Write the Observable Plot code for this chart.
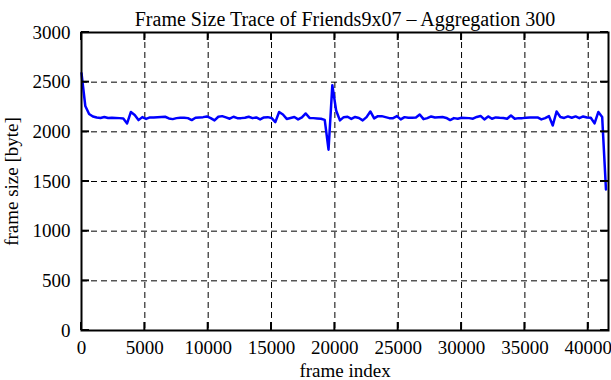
<!DOCTYPE html>
<html><head><meta charset="utf-8">
<script src="https://cdn.jsdelivr.net/npm/d3@7"></script>
<script src="https://cdn.jsdelivr.net/npm/@observablehq/plot@0.6"></script>
<style>body{margin:0;background:#fff}</style>
</head><body><div id="chart"></div>
<script>
const title = "Frame Size Trace of Friends9x07 \u2013 Aggregation 300";
const xLabel = "frame index";
const yLabel = "frame size [byte]";
const aggregation = 300;
const frameSizes = [
  2590,2260,2180,2155,2145,2140,2150,2140,2142,2140,
  2138,2135,2085,2200,2170,2118,2148,2130,2145,2145,
  2148,2150,2152,2135,2128,2138,2142,2142,2138,2118,
  2142,2145,2148,2155,2138,2115,2152,2158,2145,2132,
  2152,2138,2138,2142,2152,2138,2145,2125,2145,2148,
  2140,2098,2200,2175,2130,2140,2150,2125,2145,2185,
  2140,2138,2135,2132,2120,1820,2470,2215,2115,2148,
  2152,2130,2150,2140,2115,2148,2205,2135,2158,2158,
  2148,2138,2138,2158,2125,2148,2142,2142,2145,2175,
  2128,2138,2155,2145,2148,2150,2140,2118,2138,2132,
  2142,2140,2138,2132,2150,2160,2125,2155,2132,2145,
  2142,2140,2132,2165,2132,2138,2138,2142,2145,2145,
  2145,2125,2138,2158,2064,2205,2150,2140,2155,2142,
  2155,2138,2155,2145,2142,2085,2200,2150,1420
];
const xTicks = [0,5000,10000,15000,20000,25000,30000,35000,40000];
const yTicks = [0,500,1000,1500,2000,2500,3000];
const xDomain = [0, 41600];
const yDomain = [0, 3000];

const data = frameSizes.map((s, i) => ({frame: i * aggregation, size: s}));

const chart = Plot.plot({
  width: 611, height: 380,
  marginLeft: 81, marginRight: 3, marginTop: 32, marginBottom: 50,
  style: {fontFamily: "'Liberation Serif', 'Times New Roman', serif", fontSize: "19px", color: "#000", background: "#fff"},
  x: {domain: xDomain, ticks: xTicks},
  y: {domain: yDomain, ticks: yTicks},
  marks: [
    Plot.gridX(xTicks, {stroke: "#000", strokeOpacity: 1, strokeWidth: 1, strokeDasharray: "6,4"}),
    Plot.gridY(yTicks, {stroke: "#000", strokeOpacity: 1, strokeWidth: 1, strokeDasharray: "6,4"}),
    Plot.axisX(xTicks, {tickSize: 0, tickPadding: 10, tickFormat: d => String(d), label: xLabel, labelAnchor: "center", labelArrow: "none", labelOffset: 46}),
    Plot.axisY(yTicks, {tickSize: 0, tickPadding: 11, tickFormat: d => String(d), label: yLabel, labelAnchor: "center", labelArrow: "none", labelOffset: 77}),
    Plot.line(data, {x: "frame", y: "size", stroke: "#0000ff", strokeWidth: 2.5}),
    Plot.frame({stroke: "#000", strokeWidth: 2}),
    Plot.text([title], {frameAnchor: "top", dy: -21, text: d => d, fontSize: 20})
  ]
});

// inward tick marks on all four sides
const sx = chart.scale("x"), sy = chart.scale("y");
const [x0, x1] = sx.range, [y0, y1] = sy.range; // y0 bottom, y1 top
const svg = d3.select(chart);
const g = svg.append("g").attr("stroke", "#000").attr("stroke-width", 2);
const T = 8;
for (const t of xTicks) {
  const x = sx.apply(t);
  g.append("line").attr("x1", x).attr("x2", x).attr("y1", y0).attr("y2", y0 - T);
  g.append("line").attr("x1", x).attr("x2", x).attr("y1", y1).attr("y2", y1 + T);
}
for (const t of yTicks) {
  const y = sy.apply(t);
  g.append("line").attr("x1", x0).attr("x2", x0 + T).attr("y1", y).attr("y2", y);
  g.append("line").attr("x1", x1).attr("x2", x1 - T).attr("y1", y).attr("y2", y);
}
document.getElementById("chart").append(chart);
</script>
</body></html>
